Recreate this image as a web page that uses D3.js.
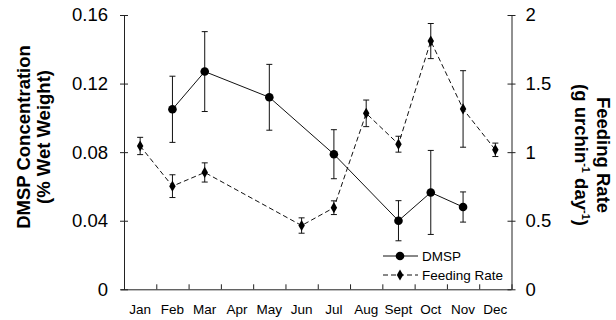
<!DOCTYPE html>
<html>
<head>
<meta charset="utf-8">
<script src="https://cdn.jsdelivr.net/npm/d3@7"></script>
<style>
  body { margin: 0; background: #fff; }
  svg { display: block; font-family: "Liberation Sans", Arial, Helvetica, sans-serif; }
</style>
</head>
<body>
<svg id="chart" width="616" height="320"></svg>
<script>
// ----------------------
// data
// ----------------------
const months = ["Jan","Feb","Mar","Apr","May","Jun","Jul","Aug","Sept","Oct","Nov","Dec"];

const dmspMonths = ["Feb","Mar","May","Jul","Sept","Oct","Nov"];
const dmspValues = [0.105, 0.127, 0.112, 0.0788, 0.040, 0.0565, 0.048];
const dmspErr    = [0.0193, 0.0233, 0.0192, 0.0143, 0.0117, 0.0245, 0.0088];

const feedMonths = ["Jan","Feb","Mar","Jun","Jul","Aug","Sept","Oct","Nov","Dec"];
const feedValues = [1.045, 0.752, 0.852, 0.465, 0.595, 1.283, 1.058, 1.81, 1.315, 1.017];
const feedErr    = [0.063, 0.083, 0.07, 0.056, 0.05, 0.097, 0.058, 0.128, 0.279, 0.049];

const leftTicks  = [0, 0.04, 0.08, 0.12, 0.16];
const rightTicks = [0, 0.5, 1, 1.5, 2];

// ----------------------
// layout
// ----------------------
const svg = d3.select("#chart");
const plot = { left: 124, right: 511.5, top: 15, bottom: 289.3 };

const x = d3.scaleBand().domain(months).range([plot.left, plot.right]).padding(0);
const xEdge = d3.scaleLinear().domain([0, 12]).range([plot.left, plot.right]);
const yL = d3.scaleLinear().domain([0, 0.16]).range([plot.bottom, plot.top]);
const yR = d3.scaleLinear().domain([0, 2]).range([plot.bottom, plot.top]);
const cx = m => x(m) + x.bandwidth() / 2;

// x axis: ticks at month edges, labels at centres
const xAxisG = svg.append("g").attr("transform", `translate(0,${plot.bottom})`);
xAxisG.call(d3.axisBottom(xEdge).tickValues(d3.range(13)).tickFormat("").tickSizeInner(-5).tickSizeOuter(0));
xAxisG.select(".domain").attr("d", `M${plot.left - 3},0.5H${plot.right}`);

const xLab = svg.append("g").attr("transform", `translate(0,${plot.bottom})`)
  .call(d3.axisBottom(x).tickSize(0).tickPadding(15));
xLab.select(".domain").remove();
xLab.selectAll("text").attr("font-size", 13.5).attr("font-family", null).attr("fill", "#000");

// left axis
const yLG = svg.append("g").attr("transform", `translate(${plot.left},0)`)
  .call(d3.axisLeft(yL).tickValues(leftTicks).tickFormat(d => d === 0 ? "0" : d3.format(".2f")(d)).tickSizeOuter(0).tickPadding(10));
yLG.selectAll(".tick line").attr("x1", -4).attr("x2", 4);
yLG.selectAll("text").attr("font-size", 18.5).attr("font-family", null).attr("fill", "#000");

// right axis
const yRG = svg.append("g").attr("transform", `translate(${plot.right},0)`)
  .call(d3.axisRight(yR).tickValues(rightTicks).tickFormat(d3.format("")).tickSizeOuter(0).tickPadding(8));
yRG.selectAll(".tick line").attr("x1", -4).attr("x2", 4);
yRG.selectAll("text").attr("font-size", 18.5).attr("font-family", null).attr("fill", "#000");

svg.selectAll(".domain, .tick line").attr("stroke", "#222");

// axis titles
const lt = svg.append("text")
  .attr("transform", "translate(30,137) rotate(-90)")
  .attr("text-anchor", "middle").attr("font-weight", "bold").attr("font-size", 18.5);
lt.append("tspan").attr("x", 0).attr("dy", 0).text("DMSP Concentration");
lt.append("tspan").attr("x", 0).attr("dy", 20).text("(% Wet Weight)");

const rt = svg.append("text")
  .attr("transform", "translate(597,155) rotate(90)")
  .attr("text-anchor", "middle").attr("font-weight", "bold").attr("font-size", 18.5);
rt.append("tspan").attr("x", 0).attr("dy", 0).text("Feeding Rate");
const rt2 = rt.append("tspan").attr("x", 0).attr("dy", 22);
rt2.append("tspan").text("(g urchin");
rt2.append("tspan").attr("font-size", 11).attr("dy", -7).text("-1");
rt2.append("tspan").attr("dy", 7).text(" day");
rt2.append("tspan").attr("font-size", 11).attr("dy", -7).text("-1");
rt2.append("tspan").attr("dy", 7).text(")");

// ----------------------
// series
// ----------------------
const dmsp = dmspMonths.map((m, i) => ({ m, v: dmspValues[i], e: dmspErr[i] }));
const feed = feedMonths.map((m, i) => ({ m, v: feedValues[i], e: feedErr[i] }));

function errorBars(data, y) {
  const g = svg.append("g").attr("stroke", "#111").attr("stroke-width", 1);
  data.forEach(d => {
    const X = cx(d.m);
    g.append("line").attr("x1", X).attr("x2", X).attr("y1", y(d.v - d.e)).attr("y2", y(d.v + d.e));
    g.append("line").attr("x1", X - 3).attr("x2", X + 3).attr("y1", y(d.v - d.e)).attr("y2", y(d.v - d.e));
    g.append("line").attr("x1", X - 3).attr("x2", X + 3).attr("y1", y(d.v + d.e)).attr("y2", y(d.v + d.e));
  });
}

errorBars(feed, yR);
errorBars(dmsp, yL);

svg.append("path").datum(feed)
  .attr("fill", "none").attr("stroke", "#111").attr("stroke-width", 1)
  .attr("stroke-dasharray", "5,3")
  .attr("d", d3.line().x(d => cx(d.m)).y(d => yR(d.v)));

svg.append("path").datum(dmsp)
  .attr("fill", "none").attr("stroke", "#111").attr("stroke-width", 1)
  .attr("d", d3.line().x(d => cx(d.m)).y(d => yL(d.v)));

const diamond = d3.symbol().type(d3.symbolDiamond).size(36);
svg.selectAll("path.feed").data(feed).enter().append("path")
  .attr("class", "feed")
  .attr("transform", d => `translate(${cx(d.m)},${yR(d.v)})`)
  .attr("d", diamond).attr("fill", "#000");

svg.selectAll("circle.dmsp").data(dmsp).enter().append("circle")
  .attr("class", "dmsp")
  .attr("cx", d => cx(d.m)).attr("cy", d => yL(d.v)).attr("r", 4.3)
  .attr("fill", "#000");

// ----------------------
// legend
// ----------------------
const lg = svg.append("g");
lg.append("line").attr("x1", 383).attr("x2", 418).attr("y1", 256).attr("y2", 256).attr("stroke", "#111");
lg.append("circle").attr("cx", 400).attr("cy", 256).attr("r", 4.3).attr("fill", "#000");
lg.append("text").attr("x", 422).attr("y", 261).attr("font-size", 13.5).text("DMSP");
lg.append("line").attr("x1", 383).attr("x2", 418).attr("y1", 275).attr("y2", 275)
  .attr("stroke", "#111").attr("stroke-dasharray", "5,3");
lg.append("path").attr("transform", "translate(400,275)").attr("d", diamond).attr("fill", "#000");
lg.append("text").attr("x", 422).attr("y", 280).attr("font-size", 13.5).text("Feeding Rate");
</script>
</body>
</html>
